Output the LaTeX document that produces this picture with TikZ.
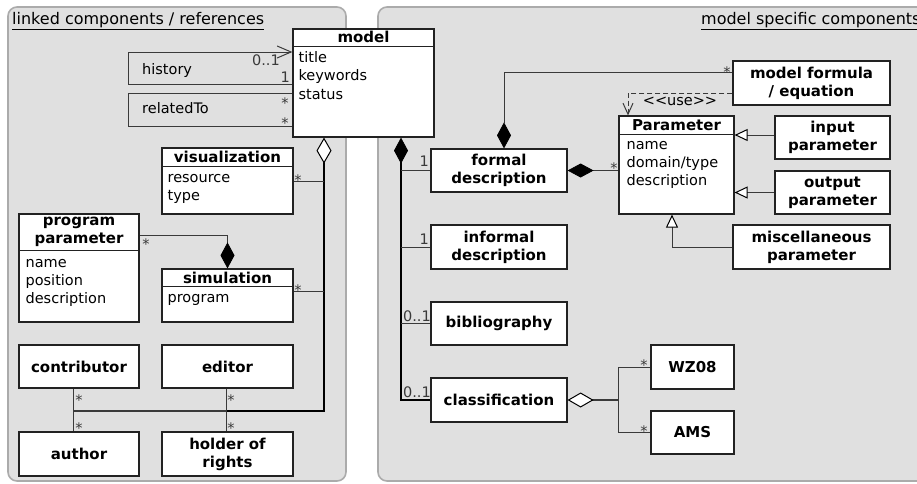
\documentclass[tikz,border=0pt]{standalone}
\usepackage{fontspec}
\setmainfont{DejaVu Sans}
\usetikzlibrary{arrows.meta,calc,fit}

\definecolor{panelfill}{HTML}{E0E0E0}
\definecolor{panelline}{HTML}{ABABAB}
\definecolor{boxline}{HTML}{222222}
\definecolor{connline}{HTML}{3A3A3A}

\tikzset{
  panel/.style={fill=panelfill, draw=panelline, line width=1.6pt, rounded corners=9pt},
  paneltitle/.style={anchor=base west, inner sep=0pt, font=\fontsize{16}{19}\selectfont},
  box/.style={draw=boxline, fill=white, line width=1.2pt, inner sep=0pt, align=center,
    font=\fontsize{15}{18}\selectfont\bfseries},
  headsep/.style={draw=boxline, line width=1.2pt},
  cname/.style={inner sep=0pt, align=center, font=\fontsize{15}{18}\selectfont\bfseries},
  attr/.style={anchor=base west, inner sep=0pt, font=\fontsize{14.5}{17}\selectfont},
  conn/.style={draw=connline, line width=1pt},
  strong/.style={draw=black, line width=2pt},
  mult/.style={anchor=base, inner sep=0pt, text=connline, font=\fontsize{14.5}{17}\selectfont},
  filleddia/.tip={Diamond[length=26pt, width=14pt, color=black, line width=0.8pt]},
  opendia/.tip={Diamond[open, length=26pt, width=15pt, fill=white, color=black, line width=1pt]},
  gentip/.tip={Triangle[open, length=13pt, width=12pt, fill=white, color=black, line width=1pt]},
  navtip/.tip={Straight Barb[length=14pt, width=12pt, line width=1pt]},
  usetip/.tip={Straight Barb[length=11pt, width=10pt, line width=1pt]},
}

\begin{document}
\begin{tikzpicture}[x=1pt, y=-1pt]
\useasboundingbox (0,0) rectangle (917,483);

% ---------------- panels ----------------
\path[panel] (8,7) rectangle (346,481);
\path[panel] (378,7) rectangle (960,481);
\node[paneltitle] (ltitle) at (12,24) {\underline{linked components / references}};
\node[paneltitle] (rtitle) at (701,24) {\underline{model specific components}};

% ---------------- class boxes (left) ----------------
\node[box, fit={(293,29) (434,137)}] (model) {};
\draw[headsep] ($(model.north west)+(0,18)$) -- ($(model.north east)+(0,18)$);
\node[cname] (model-name) at ($(model.north)+(0,9)$) {model};
\node[attr] (model-a1) at ($(model.north west)+(6,34)$) {title};
\node[attr] (model-a2) at ($(model.north west)+(6,52.5)$) {keywords};
\node[attr] (model-a3) at ($(model.north west)+(6,71)$) {status};

\node[box, fit={(162,148) (293,214)}] (visualization) {};
\draw[headsep] ($(visualization.north west)+(0,19)$) -- ($(visualization.north east)+(0,19)$);
\node[cname] (vis-name) at ($(visualization.north)+(0,9.5)$) {visualization};
\node[attr] (vis-a1) at ($(visualization.north west)+(6,35)$) {resource};
\node[attr] (vis-a2) at ($(visualization.north west)+(6,53)$) {type};

\node[box, fit={(19,214) (139,322)}] (program) {};
\draw[headsep] ($(program.north west)+(0,37)$) -- ($(program.north east)+(0,37)$);
\node[cname] (program-name) at ($(program.north)+(0,18.5)$) {program\\parameter};
\node[attr] (program-a1) at ($(program.north west)+(7,54)$) {name};
\node[attr] (program-a2) at ($(program.north west)+(7,72)$) {position};
\node[attr] (program-a3) at ($(program.north west)+(7,90)$) {description};

\node[box, fit={(162,269) (293,322)}] (simulation) {};
\draw[headsep] ($(simulation.north west)+(0,18)$) -- ($(simulation.north east)+(0,18)$);
\node[cname] (sim-name) at ($(simulation.north)+(0,9)$) {simulation};
\node[attr] (sim-a1) at ($(simulation.north west)+(6,34)$) {program};

\node[box, minimum width=120pt, minimum height=43pt] (contributor) at (79,366.5) {contributor};
\node[box, minimum width=131pt, minimum height=43pt] (editor) at (227.5,366.5) {editor};
\node[box, minimum width=120pt, minimum height=44pt] (author) at (79,454) {author};
\node[box, minimum width=131pt, minimum height=44pt] (holder) at (227.5,454) {holder of\\rights};

% ---------------- class boxes (right) ----------------
\node[box, minimum width=136pt, minimum height=43pt] (formal) at (499,170.5) {formal\\description};
\node[box, minimum width=136pt, minimum height=44pt] (informal) at (499,247) {informal\\description};
\node[box, minimum width=136pt, minimum height=43pt] (bibliography) at (499,323.5) {bibliography};
\node[box, minimum width=136pt, minimum height=44pt] (classification) at (499,400) {classification};

\node[box, minimum width=157pt, minimum height=44pt] (formula) at (811.5,83) {model formula\\/ equation};

\node[box, fit={(619,116) (734,214)}] (Parameter) {};
\draw[headsep] ($(Parameter.north west)+(0,19)$) -- ($(Parameter.north east)+(0,19)$);
\node[cname] (par-name) at ($(Parameter.north)+(0,9.5)$) {Parameter};
\node[attr] (par-a1) at ($(Parameter.north west)+(8,34)$) {name};
\node[attr] (par-a2) at ($(Parameter.north west)+(8,52)$) {domain/type};
\node[attr] (par-a3) at ($(Parameter.north west)+(8,70)$) {description};

\node[box, minimum width=115pt, minimum height=43pt] (input) at (832.5,137.5) {input\\parameter};
\node[box, minimum width=115pt, minimum height=43pt] (output) at (832.5,192.5) {output\\parameter};
\node[box, minimum width=157pt, minimum height=44pt] (misc) at (811.5,247) {miscellaneous\\parameter};

\node[box, minimum width=83pt, minimum height=44pt] (WZ08) at (692.5,367) {WZ08};
\node[box, minimum width=83pt, minimum height=43pt] (AMS) at (692.5,432.5) {AMS};

% ---------------- model self associations ----------------
\coordinate (hist-a) at (128,52);
\coordinate (hist-b) at (128,84);
\draw[conn, -{navtip}] (model.west |- hist-b) -- (hist-b) -- (hist-a) -- (model.west |- hist-a);
\node[attr] (hist-label) at (142,74) {history};
\node[mult, anchor=base east] (hist-m1) at (280,65) {0..1};
\node[mult, anchor=base east] (hist-m2) at (290,82) {1};

\coordinate (rel-a) at (128,93);
\coordinate (rel-b) at (128,126);
\draw[conn] (model.west |- rel-a) -- (rel-a) -- (rel-b) -- (model.west |- rel-b);
\node[attr] (rel-label) at (142,113) {relatedTo};
\node[mult] (rel-m1) at (285,108.5) {*};
\node[mult] (rel-m2) at (285,128.5) {*};

% ---------------- aggregation of linked components ----------------
\coordinate (agg-x) at (324,0);
\coordinate (agg-corner) at (324,411);
\coordinate (agg-mid) at (226,411);
\coordinate (agg-left) at (73,411);
\draw[strong, {opendia}-] (model.south -| agg-x) -- (agg-corner) -- (agg-mid);
\draw[conn, line width=1.8pt] (agg-mid) -- (agg-left);
\draw[conn] (visualization.east) -- (visualization.east -| agg-x);
\draw[conn] ([yshift=4.5pt]simulation.east) -- ([yshift=4.5pt]simulation.east -| agg-x);
\node[mult] (vis-m) at (298,185.5) {*};
\node[mult] (sim-m) at (298,295) {*};

\draw[conn] (contributor.south -| agg-left) -- (author.north -| agg-left);
\draw[conn] (editor.south -| agg-mid) -- (holder.north -| agg-mid);
\node[mult] (contrib-m) at (79,405.5) {*};
\node[mult] (author-m) at (79,433) {*};
\node[mult] (editor-m) at (231,405.5) {*};
\node[mult] (holder-m) at (231,433) {*};

% program parameter is part of simulation
\coordinate (pp-bend) at (227.5,235);
\draw[conn, {filleddia}-] (simulation.north) -- (pp-bend) -- (program.east |- pp-bend);
\node[mult] (pp-m) at (146,249.5) {*};

% ---------------- composition of model specific components ----------------
\coordinate (comp-x) at (401,0);
\draw[conn, draw=black, line width=1.3pt, {filleddia}-] (model.south -| comp-x) -- (classification.west -| comp-x) -- (classification.west);
\draw[conn] (formal.west) -- (formal.west -| comp-x);
\draw[conn] (informal.west) -- (informal.west -| comp-x);
\draw[conn] (bibliography.west) -- (bibliography.west -| comp-x);
\node[mult, anchor=base east] (formal-m) at (429,166) {1};
\node[mult, anchor=base east] (informal-m) at (429,244) {1};
\node[mult, anchor=base east] (biblio-m) at (431,321) {0..1};
\node[mult, anchor=base east] (class-m) at (431,397) {0..1};

% formal description owns parameters and formulas
\draw[conn, {filleddia}-] (formal.east) -- (formal.east -| Parameter.west);
\node[mult] (fp-m) at (614,173.5) {*};

\coordinate (fm-bend) at (504,72);
\draw[conn, {filleddia}-] (formal.north -| fm-bend) -- (fm-bend) -- (formula.west |- fm-bend);
\node[mult] (fm-m) at (727,77) {*};

% formula uses parameters
\coordinate (use-bend) at (628,93);
\draw[conn, dashed, dash pattern=on 5pt off 3pt, -{usetip}]
  (formula.west |- use-bend) -- (use-bend) -- (Parameter.north -| use-bend);
\node[inner sep=0pt, font=\fontsize{14.5}{17}\selectfont] (use-label) at (680,101) {<\kern0pt<use>\kern0pt>};

% parameter specialisations
\draw[conn, -{gentip}] ([yshift=2.5pt]input.west) -- ([yshift=2.5pt]input.west -| Parameter.east);
\draw[conn, -{gentip}] (output.west) -- (output.west -| Parameter.east);
\coordinate (misc-bend) at (672,247);
\draw[conn, -{gentip}] (misc.west) -- (misc-bend) -- (Parameter.south -| misc-bend);

% classification schemes
\coordinate (cls-j) at (618,400);
\draw[conn, line width=1.8pt, {opendia}-] (classification.east) -- (cls-j);
\draw[conn] (WZ08.west) -- (WZ08.west -| cls-j) -- (AMS.west -| cls-j) -- (AMS.west);
\node[mult] (wz-m) at (644,370.5) {*};
\node[mult] (ams-m) at (644,436.5) {*};
\end{tikzpicture}
\end{document}
